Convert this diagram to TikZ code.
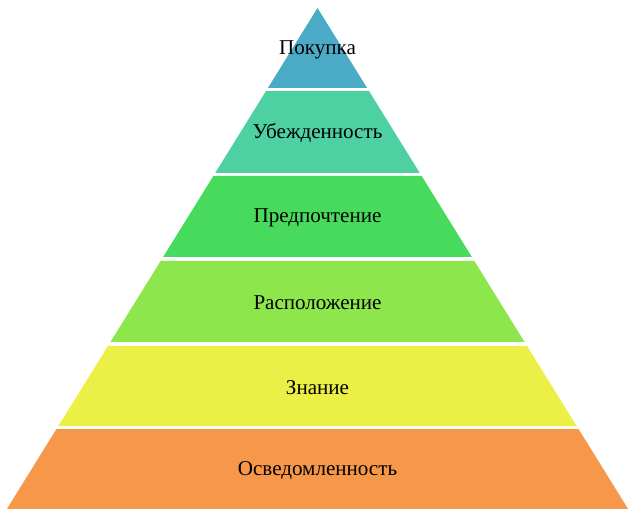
\documentclass[tikz,border=0pt]{standalone}
\usepackage{fontspec}
\setmainfont{Liberation Serif}
\definecolor{layerA}{HTML}{4BAAC5}
\definecolor{layerB}{HTML}{4DD1A2}
\definecolor{layerC}{HTML}{47DA5C}
\definecolor{layerD}{HTML}{8DE64B}
\definecolor{layerE}{HTML}{ECEF45}
\definecolor{layerF}{HTML}{F6974A}
\tikzset{
  layer/.style={draw=none},
  layertext/.style={font=\fontsize{15.8}{19}\selectfont, text=black, inner sep=0pt}
}
\begin{document}
\begin{tikzpicture}[x=0.75pt, y=-0.75pt]
    % 金字塔参数（像素）
    \def\cx{317.5}    % 中心线
    \def\ytop{8}      % 顶点
    \def\k{0.62}      % 侧边斜率
    
    \useasboundingbox (0,0) rectangle (628,509);
    
    % 各层：上沿/下沿/颜色/文字
    \foreach \t/\b/\c/\txt [count=\i] in {
        8/88/layerA/Покупка,
        91/173/layerB/Убежденность,
        176/257/layerC/Предпочтение,
        261/342/layerD/Расположение,
        346/426/layerE/Знание,
        429/509/layerF/Осведомленность} {
        \pgfmathsetmacro\wt{\k*(\t-\ytop)}
        \pgfmathsetmacro\wb{\k*(\b-\ytop)}
        \fill[layer, \c] (\cx-\wt, \t) -- (\cx+\wt, \t)
            -- (\cx+\wb, \b) -- (\cx-\wb, \b) -- cycle;
        \node[layertext] (layer\i) at (\cx, {(\t+\b)/2+1.5}) {\txt};
    }
    
\end{tikzpicture}
\end{document}
